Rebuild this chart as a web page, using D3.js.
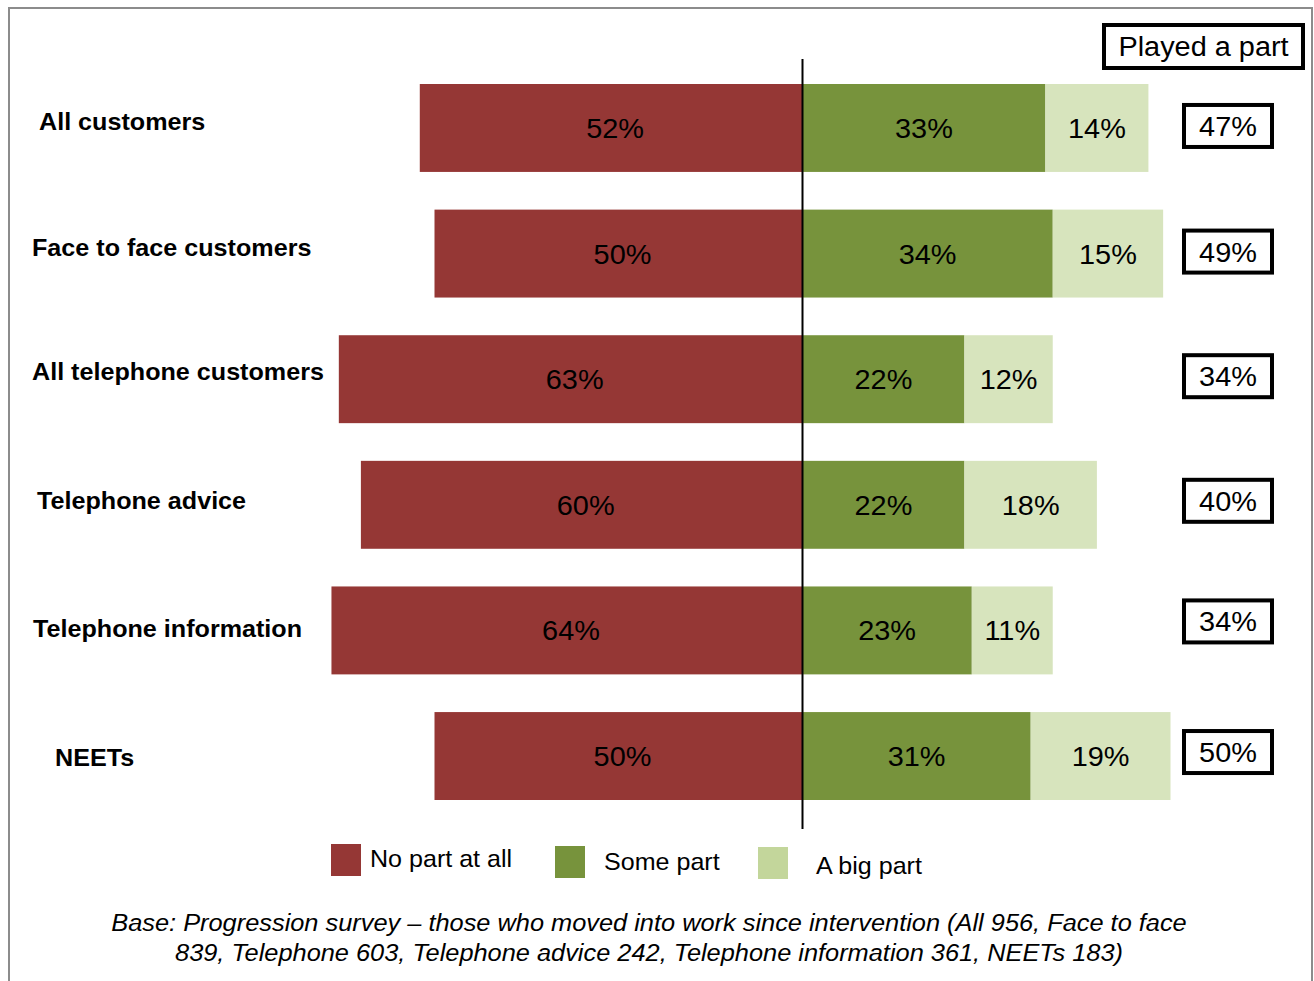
<!DOCTYPE html>
<html>
<head>
<meta charset="utf-8">
<script src="https://cdn.jsdelivr.net/npm/d3@7"></script>
<style>
  html, body { margin: 0; padding: 0; background: #fff; }
  svg { display: block; font-family: "Liberation Sans", Arial, sans-serif; }
</style>
</head>
<body>
<svg id="chart" width="1314" height="981"></svg>
<script>
// Survey groups, top to bottom
const categories = [
  "All customers",
  "Face to face customers",
  "All telephone customers",
  "Telephone advice",
  "Telephone information",
  "NEETs"
];
// Share of respondents (%) per answer
const noPart   = [52, 50, 63, 60, 64, 50];
const somePart = [33, 34, 22, 22, 23, 31];
const bigPart  = [14, 15, 12, 18, 11, 19];
// "Played a part" totals shown in the boxes on the right
const playedPart = [47, 49, 34, 40, 34, 50];

const seriesNames = ["No part at all", "Some part", "A big part"];
const footnote = [
  "Base: Progression survey \u2013 those who moved into work since intervention (All 956, Face to face",
  "839, Telephone 603, Telephone advice 242, Telephone information 361, NEETs 183)"
];

const colors = {
  no: "#953735",
  some: "#77933C",
  big: "#D7E4BD",
  bigKey: "#C3D69B"
};

// Text is set slightly wide
const WIDE = 1.07;

const svg = d3.select("#chart");

// Place a text node at (x, y) with a horizontal stretch
function placeText(sel, fx, fy, sx) {
  return sel.attr("transform", (d, i) => `translate(${fx(d, i)},${fy(d, i)}) scale(${sx},1)`);
}

// Outer frame (open at the bottom edge)
svg.append("path")
  .attr("d", "M9,981 V8 H1312 V981")
  .attr("fill", "none")
  .attr("stroke", "#8c8c8c")
  .attr("stroke-width", 2);

// Scales: diverging around zero
const PX = 7.36, ZERO = 802.5;
const x = d3.scaleLinear().domain([-65, 70]).range([ZERO - 65 * PX, ZERO + 70 * PX]);
const y = d3.scaleBand().domain(categories).range([84, 800]).paddingInner(0.3).paddingOuter(0);

const rows = categories.map((c, i) => ({
  cat: c, no: noPart[i], some: somePart[i], big: bigPart[i], played: playedPart[i]
}));

const segs = [];
rows.forEach(r => {
  segs.push({ cat: r.cat, x0: -r.no, x1: 0, v: r.no, fill: colors.no, shift: 4 });
  segs.push({ cat: r.cat, x0: 0, x1: r.some, v: r.some, fill: colors.some, shift: 0 });
  segs.push({ cat: r.cat, x0: r.some, x1: r.some + r.big, v: r.big, fill: colors.big, shift: 0 });
});

const bars = svg.append("g");
bars.selectAll("rect").data(segs).join("rect")
  .attr("x", d => x(d.x0))
  .attr("y", d => y(d.cat))
  .attr("width", d => x(d.x1) - x(d.x0))
  .attr("height", y.bandwidth())
  .attr("fill", d => d.fill);

placeText(
  bars.selectAll("text").data(segs).join("text"),
  d => (x(d.x0) + x(d.x1)) / 2 + d.shift,
  d => y(d.cat) + y.bandwidth() / 2 + 10,
  WIDE)
  .attr("text-anchor", "middle")
  .attr("font-size", 27)
  .attr("fill", "#000")
  .text(d => d.v + "%");

// Zero line
svg.append("line")
  .attr("x1", x(0)).attr("x2", x(0))
  .attr("y1", 59).attr("y2", 829)
  .attr("stroke", "#000").attr("stroke-width", 2);

// Category labels
const labelX = [39, 32, 32, 37, 33, 55];
const labelDy = [2, 2, 1, 4, 7, 10];
placeText(
  svg.append("g").selectAll("text").data(rows).join("text"),
  (d, i) => labelX[i],
  (d, i) => y(d.cat) + y.bandwidth() / 2 + labelDy[i],
  WIDE)
  .attr("font-size", 23.5)
  .attr("font-weight", "bold")
  .attr("fill", "#000")
  .text(d => d.cat);

// "Played a part" header and total boxes
const head = svg.append("g");
head.append("rect")
  .attr("x", 1104).attr("y", 25).attr("width", 199).attr("height", 43)
  .attr("fill", "#fff").attr("stroke", "#000").attr("stroke-width", 4);
head.append("text")
  .attr("transform", `translate(1203.5,56) scale(${WIDE},1)`)
  .attr("text-anchor", "middle").attr("font-size", 27)
  .text("Played a part");

const boxDy = [-2, -2, -3, -4, -9, -4];
const totals = svg.append("g").selectAll("g").data(rows).join("g")
  .attr("transform", (d, i) => `translate(1228,${y(d.cat) + y.bandwidth() / 2 + boxDy[i]})`);
totals.append("rect")
  .attr("x", -44).attr("y", -21).attr("width", 88).attr("height", 42)
  .attr("fill", "#fff").attr("stroke", "#000").attr("stroke-width", 4);
totals.append("text")
  .attr("transform", `translate(0,10) scale(${WIDE},1)`)
  .attr("text-anchor", "middle").attr("font-size", 27)
  .text(d => d.played + "%");

// Legend
const legendItems = [
  { name: seriesNames[0], fill: colors.no, sx: 331, sy: 844, tx: 370, ty: 867 },
  { name: seriesNames[1], fill: colors.some, sx: 555, sy: 846, tx: 604, ty: 870 },
  { name: seriesNames[2], fill: colors.bigKey, sx: 758, sy: 847, tx: 816, ty: 874 }
];
const leg = svg.append("g").selectAll("g").data(legendItems).join("g");
leg.append("rect")
  .attr("x", d => d.sx).attr("y", d => d.sy)
  .attr("width", 30).attr("height", 32)
  .attr("fill", d => d.fill);
placeText(leg.append("text"), d => d.tx, d => d.ty, 1.045)
  .attr("font-size", 24)
  .text(d => d.name);

// Base note
placeText(
  svg.append("g").selectAll("text").data(footnote).join("text"),
  () => 649,
  (d, i) => 931 + i * 30,
  1.08)
  .attr("text-anchor", "middle")
  .attr("font-size", 23.5)
  .attr("font-style", "italic")
  .text(d => d);
</script>
</body>
</html>
